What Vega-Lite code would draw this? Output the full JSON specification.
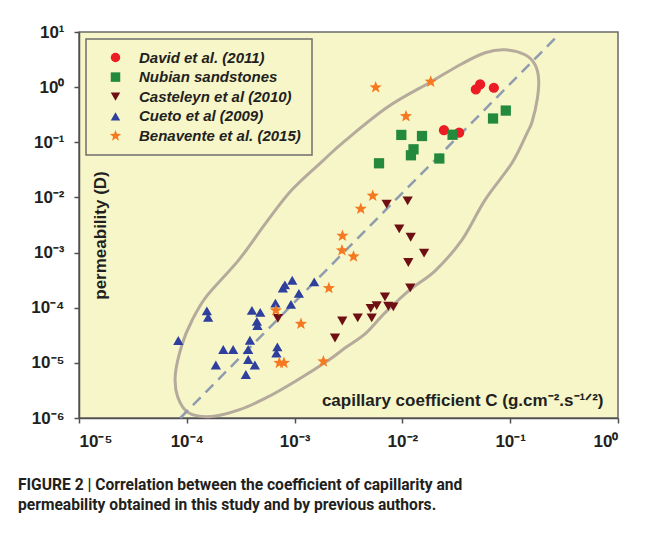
{
  "$schema": "https://vega.github.io/schema/vega-lite/v6.json",
  "width": 539,
  "height": 386,
  "autosize": {"type": "none"},
  "padding": {"left": 79, "top": 32, "right": 36, "bottom": 120},
  "background": "white",
  "title": {
    "text": ["FIGURE 2 | Correlation between the coefficient of capillarity and", "permeability obtained in this study and by previous authors."],
    "orient": "bottom",
    "anchor": "start",
    "frame": "group",
    "dx": -61,
    "offset": 29,
    "font": "Roboto",
    "fontSize": 15.6,
    "fontWeight": "bold",
    "color": "#231f20",
    "lineHeight": 20
  },
  "datasets": {
    "ellipse": [
      {"order": 1, "C": 0.0898, "k": 4.77},
      {"order": 2, "C": 0.1374, "k": 3.87},
      {"order": 3, "C": 0.1702, "k": 2.55},
      {"order": 4, "C": 0.1837, "k": 1.36},
      {"order": 5, "C": 0.1778, "k": 0.59},
      {"order": 6, "C": 0.1596, "k": 0.2355},
      {"order": 7, "C": 0.1436, "k": 0.1486},
      {"order": 8, "C": 0.1042, "k": 0.0425},
      {"order": 9, "C": 0.0585, "k": 0.00904},
      {"order": 10, "C": 0.0357, "k": 0.0017},
      {"order": 11, "C": 0.0201, "k": 0.000466},
      {"order": 12, "C": 0.012, "k": 0.000219},
      {"order": 13, "C": 0.00689, "k": 0.0000805},
      {"order": 14, "C": 0.0045, "k": 0.0000335},
      {"order": 15, "C": 0.00293, "k": 0.0000186},
      {"order": 16, "C": 0.00208, "k": 0.0000113},
      {"order": 17, "C": 0.001028, "k": 0.0000047},
      {"order": 18, "C": 0.000542, "k": 0.00000231},
      {"order": 19, "C": 0.000304, "k": 0.0000014},
      {"order": 20, "C": 0.0001706, "k": 0.000001064},
      {"order": 21, "C": 0.0001045, "k": 0.00000123},
      {"order": 22, "C": 0.0000824, "k": 0.0000024},
      {"order": 23, "C": 0.0000782, "k": 0.00000603},
      {"order": 24, "C": 0.00009, "k": 0.0000211},
      {"order": 25, "C": 0.0001112, "k": 0.0000575},
      {"order": 26, "C": 0.0001535, "k": 0.000164},
      {"order": 27, "C": 0.000304, "k": 0.000738},
      {"order": 28, "C": 0.000542, "k": 0.00346},
      {"order": 29, "C": 0.000944, "k": 0.01374},
      {"order": 30, "C": 0.00187, "k": 0.0481},
      {"order": 31, "C": 0.00293, "k": 0.1064},
      {"order": 32, "C": 0.00735, "k": 0.4406},
      {"order": 33, "C": 0.01845, "k": 1.253},
      {"order": 34, "C": 0.0357, "k": 2.66},
      {"order": 35, "C": 0.0585, "k": 4.21}
    ],
    "trend": [
      {"C": 0.000087, "k": 0.000001},
      {"C": 0.263, "k": 7.8}
    ],
    "points": [
      {"study": "David et al. (2011)", "C": 0.048, "k": 0.908},
      {"study": "David et al. (2011)", "C": 0.0526, "k": 1.12},
      {"study": "David et al. (2011)", "C": 0.0705, "k": 0.975},
      {"study": "David et al. (2011)", "C": 0.0243, "k": 0.166},
      {"study": "David et al. (2011)", "C": 0.0336, "k": 0.149},
      {"study": "Nubian sandstones", "C": 0.00607, "k": 0.0416},
      {"study": "Nubian sandstones", "C": 0.00977, "k": 0.136},
      {"study": "Nubian sandstones", "C": 0.01268, "k": 0.0746},
      {"study": "Nubian sandstones", "C": 0.012, "k": 0.0581},
      {"study": "Nubian sandstones", "C": 0.0152, "k": 0.13},
      {"study": "Nubian sandstones", "C": 0.022, "k": 0.0508},
      {"study": "Nubian sandstones", "C": 0.0292, "k": 0.137},
      {"study": "Nubian sandstones", "C": 0.0693, "k": 0.27},
      {"study": "Nubian sandstones", "C": 0.091, "k": 0.376},
      {"study": "Casteleyn et al (2010)", "C": 0.00714, "k": 0.00755},
      {"study": "Casteleyn et al (2010)", "C": 0.01119, "k": 0.00867},
      {"study": "Casteleyn et al (2010)", "C": 0.00935, "k": 0.00269},
      {"study": "Casteleyn et al (2010)", "C": 0.01194, "k": 0.0019},
      {"study": "Casteleyn et al (2010)", "C": 0.01589, "k": 0.000975},
      {"study": "Casteleyn et al (2010)", "C": 0.01135, "k": 0.000659},
      {"study": "Casteleyn et al (2010)", "C": 0.01183, "k": 0.000229},
      {"study": "Casteleyn et al (2010)", "C": 0.00689, "k": 0.000157},
      {"study": "Casteleyn et al (2010)", "C": 0.00577, "k": 0.000109},
      {"study": "Casteleyn et al (2010)", "C": 0.00508, "k": 0.0000971},
      {"study": "Casteleyn et al (2010)", "C": 0.0074, "k": 0.0001064},
      {"study": "Casteleyn et al (2010)", "C": 0.00824, "k": 0.0001035},
      {"study": "Casteleyn et al (2010)", "C": 0.00519, "k": 0.0000653},
      {"study": "Casteleyn et al (2010)", "C": 0.00385, "k": 0.0000653},
      {"study": "Casteleyn et al (2010)", "C": 0.00277, "k": 0.0000575},
      {"study": "Casteleyn et al (2010)", "C": 0.00237, "k": 0.0000283},
      {"study": "Casteleyn et al (2010)", "C": 0.0007, "k": 0.000064},
      {"study": "Cueto et al (2009)", "C": 0.0000834, "k": 0.0000255},
      {"study": "Cueto et al (2009)", "C": 0.0001535, "k": 0.0000875},
      {"study": "Cueto et al (2009)", "C": 0.0001578, "k": 0.0000673},
      {"study": "Cueto et al (2009)", "C": 0.000218, "k": 0.0000175},
      {"study": "Cueto et al (2009)", "C": 0.000269, "k": 0.0000175},
      {"study": "Cueto et al (2009)", "C": 0.000186, "k": 0.00000916},
      {"study": "Cueto et al (2009)", "C": 0.000402, "k": 0.0000893},
      {"study": "Cueto et al (2009)", "C": 0.00048, "k": 0.0000822},
      {"study": "Cueto et al (2009)", "C": 0.000447, "k": 0.0000564},
      {"study": "Cueto et al (2009)", "C": 0.000452, "k": 0.0000477},
      {"study": "Cueto et al (2009)", "C": 0.000385, "k": 0.0000257},
      {"study": "Cueto et al (2009)", "C": 0.000371, "k": 0.0000175},
      {"study": "Cueto et al (2009)", "C": 0.000371, "k": 0.0000115},
      {"study": "Cueto et al (2009)", "C": 0.000428, "k": 0.00000916},
      {"study": "Cueto et al (2009)", "C": 0.000353, "k": 0.00000615},
      {"study": "Cueto et al (2009)", "C": 0.000664, "k": 0.000121},
      {"study": "Cueto et al (2009)", "C": 0.000692, "k": 0.0000195},
      {"study": "Cueto et al (2009)", "C": 0.000678, "k": 0.0000151},
      {"study": "Cueto et al (2009)", "C": 0.000778, "k": 0.000226},
      {"study": "Cueto et al (2009)", "C": 0.000813, "k": 0.000259},
      {"study": "Cueto et al (2009)", "C": 0.000951, "k": 0.000315},
      {"study": "Cueto et al (2009)", "C": 0.001096, "k": 0.000182},
      {"study": "Cueto et al (2009)", "C": 0.000925, "k": 0.000115},
      {"study": "Cueto et al (2009)", "C": 0.00152, "k": 0.000294},
      {"study": "Benavente et al. (2015)", "C": 0.00565, "k": 0.988},
      {"study": "Benavente et al. (2015)", "C": 0.01832, "k": 1.253},
      {"study": "Benavente et al. (2015)", "C": 0.01079, "k": 0.296},
      {"study": "Benavente et al. (2015)", "C": 0.00531, "k": 0.0107},
      {"study": "Benavente et al. (2015)", "C": 0.00411, "k": 0.00621},
      {"study": "Benavente et al. (2015)", "C": 0.00278, "k": 0.00201},
      {"study": "Benavente et al. (2015)", "C": 0.00275, "k": 0.001096},
      {"study": "Benavente et al. (2015)", "C": 0.00352, "k": 0.000846},
      {"study": "Benavente et al. (2015)", "C": 0.00208, "k": 0.000226},
      {"study": "Benavente et al. (2015)", "C": 0.00067, "k": 0.0000893},
      {"study": "Benavente et al. (2015)", "C": 0.001145, "k": 0.0000508},
      {"study": "Benavente et al. (2015)", "C": 0.000722, "k": 0.00000996},
      {"study": "Benavente et al. (2015)", "C": 0.000796, "k": 0.00000996},
      {"study": "Benavente et al. (2015)", "C": 0.00185, "k": 0.0000106}
    ]
  },
  "encoding": {
    "x": {
      "field": "C",
      "type": "quantitative",
      "scale": {"type": "log", "domain": [0.00001, 1], "nice": false},
      "axis": {
        "values": [0.00001, 0.0001, 0.001, 0.01, 0.1, 1],
        "labelExpr": "['10⁻⁶','10⁻⁵','10⁻⁴','10⁻³','10⁻²','10⁻¹','10⁰','10¹'][round(log(datum.value)/LN10)+6]",
        "labelPadding": 10,
        "title": "capillary coefficient C (g.cm⁻².s⁻¹ᐟ²)",
        "titleX": 524,
        "titleY": -13,
        "titleAlign": "right",
        "titleBaseline": "alphabetic",
        "titleAngle": 0
      }
    },
    "y": {
      "field": "k",
      "type": "quantitative",
      "scale": {"type": "log", "domain": [0.000001, 10], "nice": false},
      "axis": {
        "values": [0.000001, 0.00001, 0.0001, 0.001, 0.01, 0.1, 1, 10],
        "labelExpr": "['10⁻⁶','10⁻⁵','10⁻⁴','10⁻³','10⁻²','10⁻¹','10⁰','10¹'][round(log(datum.value)/LN10)+6]",
        "labelPadding": 10,
        "title": "permeability (D)",
        "titleX": 21,
        "titleY": 203,
        "titleAngle": -90,
        "titleAlign": "center",
        "titleBaseline": "middle"
      }
    }
  },
  "layer": [
    {
      "data": {"name": "ellipse"},
      "mark": {"type": "line", "interpolate": "cardinal-closed", "stroke": "#b5aa9b", "strokeWidth": 3},
      "encoding": {"order": {"field": "order", "type": "quantitative"}}
    },
    {
      "data": {"name": "trend"},
      "mark": {"type": "line", "stroke": "#8f9bae", "strokeWidth": 2.5, "strokeDash": [11, 7]},
      "encoding": {}
    },
    {
      "data": {"name": "points"},
      "mark": {"type": "point", "filled": true, "opacity": 1, "size": 105},
      "encoding": {
        "color": {
          "field": "study",
          "type": "nominal",
          "scale": {
            "domain": ["David et al. (2011)", "Nubian sandstones", "Casteleyn et al (2010)", "Cueto et al (2009)", "Benavente et al. (2015)"],
            "range": ["#ec1c24", "#22893d", "#6e1013", "#2e3f9e", "#f47920"]
          },
          "legend": {"title": null}
        },
        "shape": {
          "field": "study",
          "type": "nominal",
          "scale": {
            "domain": ["David et al. (2011)", "Nubian sandstones", "Casteleyn et al (2010)", "Cueto et al (2009)", "Benavente et al. (2015)"],
            "range": ["circle", "square", "triangle-down", "triangle-up", "M0,-1.25L0.31,-0.43L1.19,-0.39L0.5,0.16L0.74,1.01L0,0.52L-0.74,1.01L-0.5,0.16L-1.19,-0.39L-0.31,-0.43Z"]
          },
          "legend": {"title": null}
        }
      }
    }
  ],
  "config": {
    "view": {"fill": "#f6f6c8", "stroke": "#6a6a6a", "strokeWidth": 1.5},
    "axis": {
      "grid": false,
      "domainColor": "#505050",
      "domainWidth": 1.5,
      "tickColor": "#505050",
      "tickWidth": 1.5,
      "tickSize": 5,
      "labelFont": "Liberation Sans",
      "labelFontWeight": "bold",
      "labelFontSize": 17,
      "labelColor": "#231f20",
      "titleFont": "Liberation Sans",
      "titleFontWeight": "bold",
      "titleFontSize": 17,
      "titleColor": "#231f20"
    },
    "legend": {
      "orient": "none",
      "legendX": 7,
      "legendY": 7,
      "padding": 11,
      "strokeColor": "#6d6d6d",
      "strokeWidth": 1.5,
      "fillColor": "#f6f6c8",
      "labelFont": "Liberation Sans",
      "labelFontSize": 15,
      "labelFontWeight": "bold",
      "labelFontStyle": "italic",
      "labelColor": "#231f20",
      "labelLimit": 300,
      "symbolSize": 90,
      "symbolOffset": 11,
      "labelOffset": 16,
      "rowPadding": 3.6
    }
  }
}
